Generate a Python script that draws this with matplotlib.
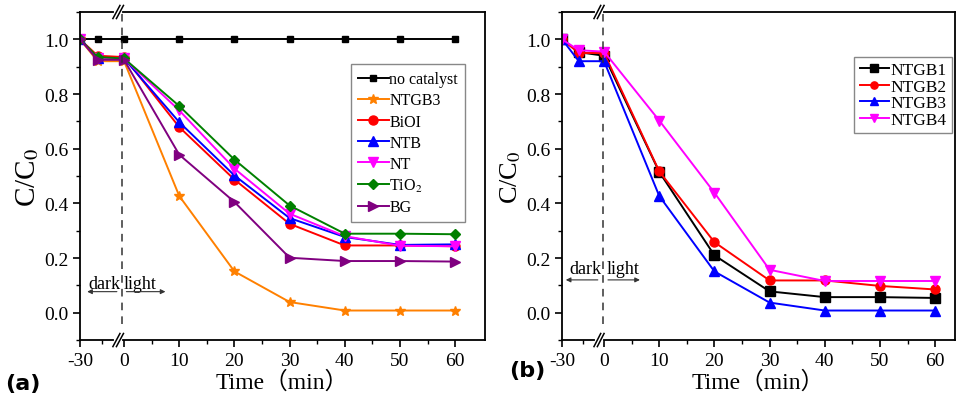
import numpy as np
import matplotlib
matplotlib.use("Agg")
import matplotlib.pyplot as plt
import matplotlib.transforms as mtransforms

plt.rcParams['font.family'] = ['Liberation Serif', 'DejaVu Serif']
plt.rcParams['mathtext.fontset'] = 'stix'
plt.rcParams['axes.unicode_minus'] = False

# sampling times (min); dark adsorption before 0, light after
times = [-30, -18, 0, 10, 20, 30, 40, 50, 60]

# panel (a)
a_labels = ['no catalyst', 'NTGB3', 'BiOI', 'NTB', 'NT', 'TiO$_2$', 'BG']
no_catalyst = [1.0, 1.0, 1.0, 1.0, 1.0, 1.0, 1.0, 1.0, 1.0]
ntgb3_a = [1.0, 0.92, 0.92, 0.427, 0.151, 0.039, 0.008, 0.008, 0.008]
bioi = [1.0, 0.94, 0.935, 0.679, 0.487, 0.325, 0.246, 0.246, 0.243]
ntb = [1.0, 0.93, 0.93, 0.697, 0.502, 0.346, 0.277, 0.248, 0.25]
nt = [1.0, 0.93, 0.93, 0.74, 0.527, 0.362, 0.28, 0.245, 0.243]
tio2 = [1.0, 0.935, 0.93, 0.756, 0.56, 0.392, 0.289, 0.289, 0.287]
bg = [1.0, 0.925, 0.925, 0.578, 0.405, 0.201, 0.189, 0.189, 0.187]

# panel (b)
b_labels = ['NTGB1', 'NTGB2', 'NTGB3', 'NTGB4']
ntgb1 = [1.0, 0.953, 0.94, 0.515, 0.21, 0.078, 0.057, 0.057, 0.054]
ntgb2 = [1.0, 0.95, 0.95, 0.517, 0.258, 0.118, 0.118, 0.098, 0.085]
ntgb3_b = [1.0, 0.92, 0.92, 0.427, 0.151, 0.037, 0.008, 0.008, 0.008]
ntgb4 = [1.0, 0.96, 0.955, 0.703, 0.439, 0.157, 0.116, 0.116, 0.116]

x_ticks = [-30, 0, 10, 20, 30, 40, 50, 60]
x_minor = [-15, 5, 15, 25, 35, 45, 55]


def make_scale(k):
    def fwd(t):
        t = np.asarray(t, dtype=float)
        return np.where(t < 0, t * k, t)

    def inv(u):
        u = np.asarray(u, dtype=float)
        return np.where(u < 0, u / k, u)
    return fwd, inv


def style_axes(ax, k, xmax, ylabel_size):
    ax.set_xscale('function', functions=make_scale(k))
    ax.set_xlim(-30, xmax)
    ax.set_ylim(-0.1, 1.1)
    ax.set_xticks(x_ticks)
    ax.set_xticklabels([str(t) for t in x_ticks])
    ax.set_xticks(x_minor, minor=True)
    ax.set_yticks(np.arange(0, 1.01, 0.2))
    ax.set_yticks(np.arange(-0.1, 1.11, 0.1), minor=True)
    ax.yaxis.set_major_formatter(plt.FormatStrFormatter('%.1f'))
    ax.tick_params(which='major', direction='out', length=5, width=1.2, labelsize=14)
    ax.tick_params(which='minor', direction='out', length=3, width=1.0)
    for s in ax.spines.values():
        s.set_linewidth(1.3)
    ax.set_ylabel('C/C$_0$', fontsize=ylabel_size, labelpad=2)
    ax.set_xlabel('Time（min）', fontsize=17, family=['Liberation Serif', 'Noto Sans CJK SC'],
                  labelpad=1)


def decorate(ax, t_break, t_dash, y_text, y_arrow, left_end, right_end):
    ax.axvline(t_dash, ymin=0.05, ymax=1.0, color='#333333', lw=1.1, ls=(0, (5, 4)))
    trans = mtransforms.blended_transform_factory(ax.transData, ax.transAxes)
    for yb in (0.0, 1.0):
        ax.plot([t_break - 1.5, t_break + 1.5], [yb, yb], color='white', lw=3,
                transform=trans, clip_on=False, zorder=5)
        for dx in (-1.2, 1.2):
            ax.plot([t_break + dx - 2.4, t_break + dx + 2.4], [yb - 0.02, yb + 0.02],
                    color='black', lw=1.1, transform=trans, clip_on=False, zorder=6)
    ax.text(t_dash - 0.8, y_text, 'dark', ha='right', va='center', fontsize=13)
    ax.text(t_dash + 1.5, y_text, 'light', ha='left', va='center', fontsize=13)
    ax.annotate('', xy=(left_end, y_arrow), xytext=(t_dash - 1.5, y_arrow),
                arrowprops=dict(arrowstyle='-|>', color='#333333', lw=0.8,
                                mutation_scale=7))
    ax.annotate('', xy=(right_end, y_arrow), xytext=(t_dash + 1.2, y_arrow),
                arrowprops=dict(arrowstyle='-|>', color='#333333', lw=0.8,
                                mutation_scale=7))


fig = plt.figure(figsize=(9.56, 4.06), dpi=100)
ax1 = fig.add_axes([0.0837, 0.160, 0.4236, 0.808])
ax2 = fig.add_axes([0.5879, 0.160, 0.4110, 0.808])

a_series = [no_catalyst, ntgb3_a, bioi, ntb, nt, tio2, bg]
a_colors = ['black', '#FF8000', '#FF0000', '#0000FF', '#FF00FF', '#008000', '#800080']
a_markers = ['s', '*', 'o', '^', 'v', 'D', '>']
a_sizes = [4.5, 7.5, 6.5, 6.5, 6.5, 5.5, 6.5]
for vals, lab, c, m, ms in zip(a_series, a_labels, a_colors, a_markers, a_sizes):
    ax1.plot(times, vals, color=c, marker=m, ms=ms, lw=1.4, label=lab)

style_axes(ax1, 0.266, 65.4, 21)
decorate(ax1, -4.0, -1.5, 0.106, 0.077, -27, 8)
ax1.legend(loc='upper right', bbox_to_anchor=(0.951, 0.841), fontsize=11.5,
           frameon=True, fancybox=False, edgecolor='#888888', framealpha=1,
           handlelength=1.9, handletextpad=0.05, labelspacing=0.32,
           borderpad=0.45, borderaxespad=0)

b_series = [ntgb1, ntgb2, ntgb3_b, ntgb4]
b_colors = ['black', '#FF0000', '#0000FF', '#FF00FF']
b_markers = ['s', 'o', '^', 'v']
for vals, lab, c, m in zip(b_series, b_labels, b_colors, b_markers):
    ax2.plot(times, vals, color=c, marker=m, ms=6.5, lw=1.4, label=lab)

style_axes(ax2, 0.254, 63.6, 19)
decorate(ax2, -3.6, -1.0, 0.16, 0.12, -29.3, 7)
ax2.legend(loc='upper right', bbox_to_anchor=(0.993, 0.863), fontsize=12.5,
           frameon=True, fancybox=False, edgecolor='#888888', framealpha=1,
           handlelength=1.7, handletextpad=0.1, labelspacing=0.02,
           borderpad=0.3, borderaxespad=0, markerscale=0.8)

fig.text(0.005, 0.055, '(a)', fontsize=16, fontweight='bold', family='DejaVu Sans',
         va='center', ha='left')
fig.text(0.533, 0.085, '(b)', fontsize=16, fontweight='bold', family='DejaVu Sans',
         va='center', ha='left')

fig.savefig('out.png', dpi=100)
